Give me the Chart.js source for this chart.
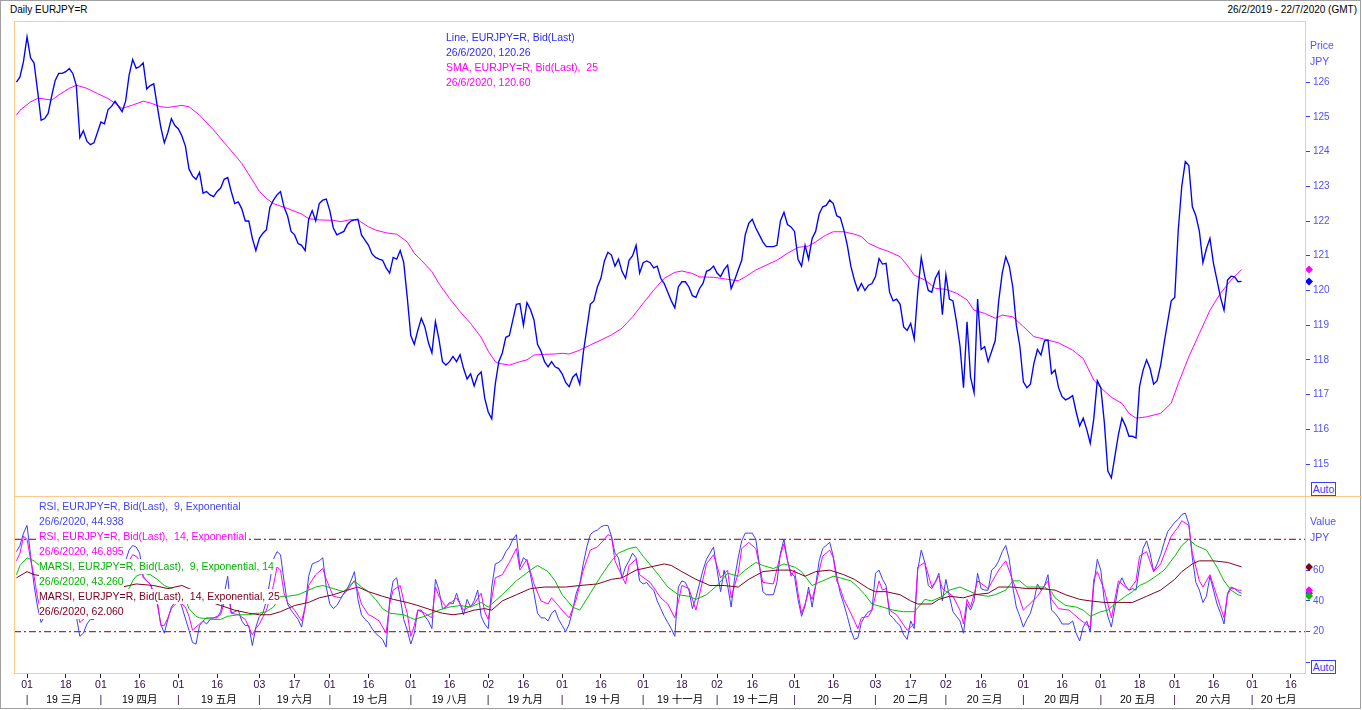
<!DOCTYPE html>
<html lang="zh">
  <head>
    <meta charset="UTF-8" />
    <meta name="viewport" content="width=device-width, initial-scale=1.0" />
    <script src="https://cdn.jsdelivr.net/npm/chart.js@4.4.1/dist/chart.umd.min.js"></script>
    <title>Daily EURJPY=R</title>
    <style>
      body { margin: 0; background: #fff; font-family: "Liberation Sans", "Noto Sans CJK SC", sans-serif; }
      #page { position: relative; width: 1362px; height: 710px; overflow: hidden; background: #fff; }
      #page > * { position: absolute; }
      #outer { left: 0; top: 0; width: 1361px; height: 709px; border: 1px solid #a0a0a0; box-sizing: border-box; }
      #frame { left: 14px; top: 21px; width: 1292px; height: 653px; border: 1px solid #ffc88c; box-sizing: border-box; z-index: 5; pointer-events: none; }
      #sep { left: 14px; top: 496px; width: 1348px; height: 1px; background: #ffc88c; z-index: 5; }
      #priceChart { left: 14px; top: 21px; }
      #rsiChart { left: 14px; top: 496px; }
      .txt { font-size: 10px; line-height: 15px; white-space: pre; }
      .legend { z-index: 4; font-size: 10.5px; line-height: 15px; }
      .legend div { width: max-content; background: #fff; white-space: pre; }
      .axisname { color: #5050ff; font-size: 10.5px; line-height: 16px; }
      .auto { width: 25px; height: 14px; border: 1px solid #3c3cff; box-sizing: border-box; color: #3c3cff; font-size: 10.5px; line-height: 12px; text-align: center; background: #fff; z-index: 6; }
    </style>
  </head>
  <body>
    <div id="page">
      <div id="outer"></div>
      <div class="txt" style="left:10px;top:2px">Daily EURJPY=R</div>
      <div class="txt" style="right:5px;top:2px">26/2/2019 - 22/7/2020 (GMT)</div>

      <canvas id="priceChart" width="1348" height="475"></canvas>
      <canvas id="rsiChart" width="1348" height="214"></canvas>

      <div class="legend" style="left:446px;top:30px">
        <div style="color:#2a2aff">Line, EURJPY=R, Bid(Last)</div>
        <div style="color:#2a2aff">26/6/2020, 120.26</div>
        <div style="color:#ff00ff">SMA, EURJPY=R, Bid(Last),  25</div>
        <div style="color:#ff00ff">26/6/2020, 120.60</div>
      </div>
      <div class="legend" style="left:39px;top:499px">
        <div style="color:#4444ff">RSI, EURJPY=R, Bid(Last),  9, Exponential</div>
        <div style="color:#4444ff">26/6/2020, 44.938</div>
        <div style="color:#ff00ff">RSI, EURJPY=R, Bid(Last),  14, Exponential</div>
        <div style="color:#ff00ff">26/6/2020, 46.895</div>
        <div style="color:#00b400">MARSI, EURJPY=R, Bid(Last),  9, Exponential, 14</div>
        <div style="color:#00b400">26/6/2020, 43.260</div>
        <div style="color:#800020">MARSI, EURJPY=R, Bid(Last),  14, Exponential, 25</div>
        <div style="color:#800020">26/6/2020, 62.060</div>
      </div>

      <div class="axisname" style="left:1310px;top:37px">Price<br />JPY</div>
      <div class="axisname" style="left:1310px;top:513px">Value<br />JPY</div>
      <div class="auto" style="left:1311px;top:482px">Auto</div>
      <div class="auto" style="left:1311px;top:660px">Auto</div>

      <div id="frame"></div>
      <div id="sep"></div>
    </div>

    <script>
      // x = trading day index, 0 = 26/2/2019 (weekdays only)
      const X_MIN = -0.7;
      const X_MAX = 366;

      // daily close, 26/2/2019 .. 26/6/2020
      const priceClose = [
        126.0, 126.15, 126.6, 127.3, 126.7, 126.55, 125.75, 124.9, 124.95, 125.1,
        125.6, 126.05, 126.25, 126.25, 126.3, 126.39, 126.25, 125.9, 124.4, 124.6,
        124.3, 124.2, 124.25, 124.55, 124.85, 124.8, 125.2, 125.3, 125.45, 125.3,
        125.15, 125.45, 126.2, 126.65, 126.4, 126.45, 126.55, 125.8, 125.9, 125.95,
        125.3, 124.7, 124.25, 124.55, 124.95, 124.75, 124.65, 124.45, 124.15, 123.5,
        123.3, 123.2, 123.4, 122.8, 122.85, 122.75, 122.7, 122.85, 122.95, 123.2,
        123.25, 122.85, 122.5, 122.55, 122.35, 122.0, 122.0, 121.5, 121.15, 121.5,
        121.65, 121.75, 122.4, 122.6, 122.75, 122.85, 122.4, 122.15, 121.7, 121.6,
        121.35, 121.3, 121.15, 122.05, 122.3, 122.0, 122.5, 122.6, 122.63, 122.3,
        121.8, 121.6, 121.65, 121.7, 121.9, 122.0, 122.03, 122.05, 121.6, 121.45,
        121.3, 121.05, 120.95, 120.9, 120.87, 120.65, 120.5, 120.95, 120.9, 121.15,
        120.8, 119.8, 118.7, 118.45, 118.85, 119.2, 118.95, 118.5, 118.2, 119.1,
        118.6, 117.95, 117.85, 117.95, 118.1, 117.95, 118.15, 117.75, 117.45, 117.6,
        117.25, 117.55, 117.65, 116.9, 116.5, 116.3, 117.3, 117.95, 118.2, 118.65,
        118.7, 119.15, 119.6, 119.62, 119.0, 119.65, 119.45, 119.15, 118.45, 118.25,
        117.95, 117.8, 117.95, 117.8, 117.75, 117.6, 117.35, 117.23, 117.5, 117.6,
        117.3, 118.2, 118.9, 119.6, 119.7, 120.1, 120.35, 120.85, 121.1, 121.02,
        120.7, 120.9, 120.55, 120.35, 120.87, 121.0, 121.3, 120.5, 120.8, 120.85,
        120.8, 120.65, 120.7, 120.35, 120.2, 119.95, 119.7, 119.5, 120.1, 120.25,
        120.25, 120.1, 119.85, 119.8, 120.05, 120.2, 120.55, 120.6, 120.7, 120.5,
        120.4, 120.6, 120.73, 120.05, 120.3, 120.59, 120.87, 121.6, 121.93, 122.05,
        121.8, 121.6, 121.4, 121.26, 121.26, 121.26, 121.3, 122.0, 122.25, 121.9,
        121.83, 121.7, 120.9, 120.7, 121.3, 120.9, 121.5, 121.7, 122.2, 122.41,
        122.45, 122.6, 122.5, 122.15, 122.1, 121.75, 121.3, 120.7, 120.3, 120.0,
        120.2, 120.0, 120.15, 120.2, 120.4, 120.92, 120.76, 120.78, 119.95, 119.7,
        119.75, 119.6, 118.95, 118.85, 119.05, 118.6, 119.95, 120.95, 120.4, 120.0,
        119.95, 120.35, 120.55, 119.3, 120.45, 119.75, 119.7, 119.1, 118.4, 117.2,
        119.1, 117.5, 117.05, 119.75, 118.3, 118.38, 117.95, 118.25, 118.55, 119.7,
        120.5, 120.97, 120.7, 120.1, 119.0, 118.4, 117.37, 117.2, 117.3, 117.9,
        118.3, 118.14, 118.55, 118.57, 117.6, 117.71, 117.2, 116.94, 116.85, 116.9,
        116.97, 116.5, 116.1, 116.32, 116.0, 115.6, 116.3, 117.4, 117.2, 116.2,
        114.8, 114.6, 115.22, 115.85, 116.32, 116.1, 115.8, 115.8, 115.75, 117.23,
        117.7, 118.0, 117.75, 117.3, 117.4, 117.85, 118.5, 119.1, 119.7, 119.8,
        121.74, 123.0, 123.71, 123.6, 122.41, 122.15, 121.7, 120.8, 121.2, 121.5,
        120.78, 120.3, 119.8, 119.43, 120.3, 120.41, 120.39, 120.25, 120.26
      ];

      // [trading day, value]
      const sma25 = [
        [0, 125.05], [1, 125.19], [4, 125.43], [6, 125.53], [7, 125.53], [10, 125.48], [12, 125.63],
        [15, 125.82], [17, 125.91], [20, 125.82], [23, 125.67], [26, 125.53], [28, 125.39], [30, 125.24],
        [33, 125.34], [36, 125.45], [38, 125.4], [41, 125.29], [43, 125.27], [47, 125.33], [49, 125.29],
        [52, 125.05], [56, 124.62], [60, 124.14], [64, 123.66], [67, 123.18], [69, 122.85], [71, 122.65],
        [73, 122.5], [77, 122.36], [81, 122.2], [83, 122.07], [86, 122.03], [90, 122.02], [92, 121.98],
        [95, 122.04], [97, 122.03], [100, 121.83], [102, 121.74], [105, 121.66], [108, 121.62],
        [111, 121.4], [113, 121.07], [115, 120.87], [118, 120.54], [120, 120.2], [123, 119.77],
        [126, 119.39], [129, 119.05], [132, 118.65], [134, 118.25], [136, 117.95], [137, 117.9],
        [140, 117.85], [143, 117.95], [145, 118.0], [147, 118.14], [150, 118.16], [153, 118.17],
        [155, 118.19], [157, 118.17], [160, 118.28], [163, 118.43], [166, 118.57], [169, 118.72],
        [172, 118.91], [175, 119.24], [178, 119.63], [181, 120.01], [184, 120.35], [187, 120.52],
        [189, 120.56], [192, 120.49], [194, 120.39], [198, 120.38], [202, 120.32], [205, 120.28],
        [207, 120.39], [210, 120.59], [213, 120.73], [216, 120.87], [219, 121.07], [222, 121.24],
        [225, 121.28], [227, 121.4], [230, 121.6], [232, 121.69], [235, 121.69], [238, 121.62],
        [240, 121.55], [242, 121.36], [245, 121.22], [248, 121.11], [251, 120.97], [253, 120.73],
        [255, 120.44], [258, 120.3], [260, 120.15], [261, 120.06], [264, 120.03], [267, 119.92],
        [270, 119.73], [272, 119.43], [275, 119.34], [278, 119.2], [280, 119.29], [283, 119.24],
        [286, 118.96], [289, 118.67], [293, 118.57], [296, 118.49], [300, 118.28], [303, 118.04],
        [306, 117.42], [308, 117.2], [311, 116.92], [314, 116.75], [316, 116.46], [318, 116.32],
        [321, 116.36], [325, 116.46], [328, 116.75], [330, 117.32], [333, 118.09], [336, 118.76],
        [339, 119.43], [342, 119.92], [345, 120.3], [348, 120.6]
      ];

      const rsi9 = [
        [0, 72], [1, 76], [2, 84], [3, 89], [4, 70], [5, 50], [6, 36], [7, 26], [8, 30], [10, 46],
        [12, 56], [14, 62], [15, 63], [16, 56], [17, 30], [18, 17], [19, 19], [20, 25], [21, 28],
        [22, 28], [24, 40], [26, 52], [28, 60], [30, 62], [31, 66], [32, 73], [33, 76], [34, 75],
        [35, 71], [36, 56], [37, 53], [38, 51], [40, 38], [41, 25], [42, 19], [43, 28], [44, 36],
        [46, 42], [47, 36], [49, 21], [50, 13], [51, 12], [52, 24], [53, 27], [54, 25], [55, 28],
        [56, 29], [57, 29], [58, 33], [60, 56], [61, 32], [62, 33], [63, 34], [64, 27], [65, 24],
        [66, 24], [67, 11], [68, 23], [69, 30], [70, 32], [71, 40], [72, 53], [73, 67], [74, 72],
        [75, 70], [76, 53], [77, 38], [78, 34], [79, 31], [80, 28], [81, 23], [82, 36], [83, 56],
        [84, 64], [85, 65], [86, 66], [87, 68], [88, 49], [89, 38], [90, 35], [91, 37], [92, 41],
        [93, 45], [94, 48], [95, 53], [96, 59], [97, 41], [98, 31], [99, 28], [100, 26], [101, 22],
        [102, 19], [103, 17], [104, 15], [105, 10], [106, 40], [107, 53], [108, 55], [109, 42],
        [110, 28], [111, 21], [112, 12], [113, 19], [114, 34], [115, 34], [116, 30], [117, 27],
        [118, 22], [119, 54], [120, 47], [121, 35], [122, 36], [123, 39], [124, 38], [125, 45],
        [126, 38], [127, 31], [128, 41], [129, 36], [130, 40], [131, 47], [132, 30], [133, 25],
        [134, 22], [135, 49], [136, 64], [137, 65], [138, 67], [139, 72], [140, 75], [141, 80],
        [142, 83], [143, 62], [144, 68], [145, 66], [146, 57], [147, 45], [148, 32], [149, 29],
        [150, 29], [151, 27], [152, 32], [153, 34], [154, 28], [155, 24], [156, 20], [157, 25],
        [158, 34], [159, 45], [160, 51], [161, 64], [162, 75], [163, 83], [164, 85], [165, 86],
        [166, 88], [167, 89], [168, 89], [169, 82], [170, 71], [171, 68], [172, 55], [173, 62],
        [174, 66], [175, 71], [176, 68], [177, 53], [178, 51], [179, 52], [180, 49], [181, 47],
        [182, 40], [183, 35], [184, 30], [185, 26], [186, 22], [187, 17], [188, 49], [189, 53],
        [190, 52], [191, 47], [192, 35], [193, 42], [194, 51], [195, 60], [196, 67], [197, 71],
        [198, 75], [199, 60], [200, 46], [201, 60], [202, 50], [203, 36], [204, 55], [205, 68],
        [206, 79], [207, 84], [208, 84], [209, 84], [210, 80], [211, 64], [212, 46], [213, 44],
        [214, 44], [215, 44], [216, 52], [217, 71], [218, 80], [219, 66], [220, 58], [221, 56],
        [222, 41], [223, 30], [224, 37], [225, 49], [226, 36], [227, 50], [228, 66], [229, 74],
        [230, 76], [231, 78], [232, 69], [233, 56], [234, 45], [235, 38], [236, 30], [237, 21],
        [238, 15], [239, 16], [240, 26], [241, 30], [242, 33], [243, 34], [244, 58], [245, 60],
        [246, 54], [247, 50], [248, 31], [249, 29], [250, 26], [251, 24], [252, 18], [253, 15],
        [254, 27], [255, 22], [256, 60], [257, 73], [258, 65], [259, 50], [260, 48], [261, 52],
        [262, 58], [263, 40], [264, 54], [265, 43], [266, 33], [267, 30], [268, 27], [269, 19],
        [270, 38], [271, 34], [272, 40], [273, 58], [274, 48], [275, 47], [276, 47], [277, 60],
        [278, 62], [279, 66], [280, 72], [281, 76], [282, 67], [283, 49], [284, 36], [285, 30],
        [286, 23], [287, 28], [288, 32], [289, 40], [290, 51], [291, 47], [292, 50], [293, 57],
        [294, 34], [295, 32], [296, 29], [297, 25], [298, 25], [299, 25], [300, 27], [301, 19],
        [302, 14], [303, 23], [304, 27], [305, 20], [306, 50], [307, 67], [308, 60], [309, 40],
        [310, 30], [311, 23], [312, 36], [313, 50], [314, 55], [315, 50], [316, 47], [317, 48],
        [318, 47], [319, 62], [320, 74], [321, 79], [322, 71], [323, 59], [324, 64], [325, 70],
        [326, 78], [327, 85], [328, 88], [329, 91], [330, 93], [331, 96], [332, 97], [333, 90],
        [334, 68], [335, 52], [336, 47], [337, 39], [338, 43], [339, 56], [340, 47], [341, 38],
        [342, 32], [343, 25], [344, 45], [345, 49], [346, 48], [347, 46], [348, 44.938]
      ];

      const rsi14 = [
        [0, 66], [1, 71], [2, 82], [3, 80], [4, 67], [5, 56], [6, 42], [7, 33], [8, 36], [10, 46],
        [12, 54], [14, 58], [15, 59], [16, 54], [17, 36], [18, 26], [20, 30], [22, 31], [24, 42],
        [26, 50], [28, 56], [30, 58], [32, 66], [33, 70], [34, 69], [35, 66], [36, 55], [37, 53],
        [38, 51], [40, 40], [41, 24], [42, 24], [43, 29], [44, 35], [46, 40], [48, 36], [49, 30],
        [50, 21], [52, 25], [54, 29], [56, 29], [58, 31], [60, 47], [61, 32], [63, 31], [65, 28],
        [67, 18], [68, 22], [69, 25], [71, 34], [73, 50], [74, 62], [75, 60], [76, 45], [77, 39],
        [79, 34], [81, 27], [82, 36], [83, 50], [85, 57], [87, 61], [88, 54], [90, 43], [92, 42],
        [94, 47], [96, 53], [97, 46], [98, 38], [100, 31], [101, 30], [103, 27], [105, 19],
        [106, 38], [107, 47], [109, 50], [110, 40], [111, 32], [112, 17], [113, 24], [114, 34],
        [116, 32], [118, 29], [119, 49], [120, 43], [122, 36], [124, 40], [125, 42], [127, 34],
        [130, 38], [132, 45], [133, 33], [134, 28], [136, 55], [138, 57], [140, 65], [142, 74],
        [143, 60], [145, 67], [147, 51], [149, 40], [151, 38], [152, 42], [155, 34], [157, 29],
        [159, 41], [161, 60], [163, 73], [165, 75], [167, 80], [168, 83], [169, 82], [170, 66],
        [172, 56], [173, 51], [174, 63], [176, 67], [177, 57], [180, 52], [183, 42], [185, 38],
        [187, 29], [189, 50], [191, 48], [193, 34], [196, 64], [198, 70], [200, 55], [202, 60],
        [203, 42], [205, 58], [206, 74], [208, 78], [210, 74], [212, 52], [215, 51], [217, 70],
        [218, 77], [220, 56], [221, 60], [222, 45], [223, 32], [224, 38], [225, 46], [226, 41],
        [227, 50], [229, 69], [231, 73], [232, 68], [233, 53], [234, 48], [235, 41], [237, 32],
        [239, 22], [240, 29], [242, 30], [243, 34], [245, 53], [246, 47], [247, 48], [248, 34],
        [250, 31], [253, 21], [255, 25], [256, 62], [258, 65], [260, 49], [262, 56], [263, 48],
        [266, 43], [268, 34], [269, 25], [270, 41], [271, 36], [273, 53], [276, 48], [279, 60],
        [281, 66], [283, 53], [285, 41], [286, 34], [290, 43], [293, 53], [294, 41], [296, 35],
        [299, 34], [302, 28], [305, 23], [306, 54], [307, 59], [309, 47], [311, 29], [313, 53],
        [316, 47], [318, 53], [319, 69], [321, 72], [323, 59], [325, 64], [328, 82], [330, 88],
        [331, 92], [333, 89], [334, 71], [336, 53], [337, 49], [339, 57], [341, 43], [343, 29],
        [344, 44], [345, 48], [346, 48], [347, 47], [348, 46.895]
      ];

      const marsi9 = [
        [0, 57], [1, 63], [3, 68], [5, 66], [7, 62], [10, 55], [13, 51], [16, 50], [18, 45], [21, 41],
        [24, 40], [27, 42], [30, 45], [32, 48], [33, 53], [34, 56], [36, 58], [38, 57], [40, 54],
        [42, 50], [45, 47], [47, 44], [48, 41], [49, 35], [51, 30], [52, 29], [56, 28], [58, 28],
        [60, 30], [63, 31], [66, 31], [68, 32], [69, 32], [71, 33], [73, 36], [75, 43], [77, 43],
        [80, 44], [83, 47], [85, 49], [87, 50], [90, 48], [93, 46], [96, 53], [98, 49], [100, 46],
        [102, 41], [104, 35], [106, 32], [110, 31], [113, 28], [116, 30], [118, 32], [120, 34],
        [123, 36], [126, 37], [129, 36], [132, 39], [134, 36], [138, 44], [142, 53], [146, 60],
        [148, 63], [151, 59], [153, 53], [155, 44], [158, 36], [160, 34], [163, 45], [166, 56],
        [169, 66], [171, 71], [174, 74], [176, 75], [178, 69], [182, 58], [185, 49], [188, 44],
        [191, 43], [193, 41], [196, 44], [199, 50], [202, 58], [205, 56], [207, 60], [210, 65],
        [212, 63], [215, 61], [218, 64], [221, 62], [223, 59], [226, 50], [229, 53], [232, 56],
        [234, 55], [237, 53], [239, 49], [241, 44], [243, 38], [246, 36], [249, 34], [252, 33],
        [255, 33], [257, 38], [258, 41], [260, 40], [263, 43], [265, 47], [268, 49], [270, 47],
        [273, 44], [276, 43], [278, 44], [281, 47], [283, 53], [285, 53], [287, 49], [289, 49],
        [292, 49], [294, 46], [295, 42], [298, 37], [301, 36], [303, 34], [305, 30], [308, 33],
        [310, 34], [312, 38], [315, 43], [317, 46], [319, 50], [321, 52], [323, 55], [326, 60],
        [329, 69], [331, 76], [333, 80], [335, 76], [338, 73], [341, 62], [343, 53], [345, 47],
        [347, 44], [348, 43.26]
      ];

      const marsi14 = [
        [0, 55], [3, 59], [5, 57], [8, 56], [12, 53], [16, 52], [20, 49], [24, 48], [28, 48], [32, 50],
        [34, 51], [39, 50], [43, 48], [47, 50], [50, 47], [54, 40], [58, 37], [62, 34], [66, 32],
        [69, 31], [72, 31], [75, 33], [79, 37], [83, 39], [86, 42], [90, 44], [94, 47], [97, 49],
        [100, 46], [104, 43], [107, 41], [111, 39], [114, 37], [118, 34], [121, 32], [124, 31],
        [127, 32], [130, 34], [133, 35], [135, 34], [138, 40], [142, 44], [146, 48], [150, 49],
        [153, 49], [156, 49], [160, 50], [165, 51], [169, 54], [172, 55], [176, 60], [180, 62],
        [184, 64], [186, 63], [189, 59], [193, 54], [197, 50], [201, 50], [205, 49], [208, 54],
        [212, 59], [216, 60], [220, 60], [224, 56], [227, 59], [231, 60], [235, 57], [238, 54],
        [242, 48], [244, 46], [247, 46], [251, 44], [254, 40], [256, 38], [260, 38], [262, 41],
        [265, 43], [269, 42], [272, 44], [276, 45], [279, 49], [283, 49], [287, 48], [291, 48],
        [295, 47], [298, 44], [302, 41], [305, 40], [309, 39], [313, 39], [317, 39], [321, 43],
        [325, 47], [329, 54], [331, 59], [334, 64], [336, 66], [340, 66], [344, 65], [348, 62.06]
      ];

      const rsiBands = [80, 20];
      const priceTicks = [115, 116, 117, 118, 119, 120, 121, 122, 123, 124, 125, 126];
      const rsiTicks = [0, 20, 40, 60];

      const dayTickIndex = [3, 14, 24, 35, 46, 57, 69, 79, 89, 100, 112, 123, 134, 144, 155, 166, 178,
        189, 199, 209, 221, 232, 244, 254, 264, 274, 286, 297, 308, 319, 329, 340, 351, 362];
      const dayTickLabel = ['01', '18', '01', '16', '01', '16', '03', '17', '01', '16', '01', '16', '02',
        '16', '01', '16', '01', '18', '02', '16', '01', '16', '03', '17', '02', '16', '01', '16', '01',
        '18', '01', '16', '01', '16'];
      const monthStartIndex = [3, 24, 46, 69, 89, 112, 134, 155, 178, 199, 221, 244, 264, 286, 308, 329, 351];
      const monthNames = ['19 三月', '19 四月', '19 五月', '19 六月', '19 七月', '19 八月', '19 九月',
        '19 十月', '19 十一月', '19 十二月', '20 一月', '20 二月', '20 三月', '20 四月', '20 五月',
        '20 六月', '20 七月'];

      Chart.defaults.font.family = '"Liberation Sans", "Noto Sans CJK SC", sans-serif';
      Chart.defaults.font.size = 10;
      Chart.defaults.animation = false;

      const toPoints = (pairs) => pairs.map(([x, y]) => ({ x, y }));

      // month names sit in the middle of their visible span, "|" marks the month start
      let axisTicks = dayTickIndex.map((v, k) => ({
        value: v,
        kind: 'day',
        text: [dayTickLabel[k], monthStartIndex.includes(v) ? '|' : ''],
      }));
      monthStartIndex.forEach((start, k) => {
        const end = k + 1 < monthStartIndex.length ? monthStartIndex[k + 1] : X_MAX;
        axisTicks.push({ value: (start + end) / 2, kind: 'month', text: ['', monthNames[k]] });
      });
      axisTicks.sort((a, b) => a.value - b.value);

      // small diamonds on the value axis at each series' last value
      const endMarkers = {
        id: 'endMarkers',
        afterDatasetsDraw(chart, args, opts) {
          const ctx = chart.ctx;
          const x = chart.chartArea.right + 4;
          opts.order.forEach((i) => {
            const ds = chart.data.datasets[i];
            const last = ds.data[ds.data.length - 1];
            const y = chart.scales.y.getPixelForValue(last.y);
            ctx.save();
            ctx.fillStyle = ds.borderColor;
            ctx.beginPath();
            ctx.moveTo(x, y - 4);
            ctx.lineTo(x + 4, y);
            ctx.lineTo(x, y + 4);
            ctx.lineTo(x - 4, y);
            ctx.closePath();
            ctx.fill();
            ctx.restore();
          });
        },
      };

      function lineSet(data, color, width) {
        return { data, borderColor: color, borderWidth: width, pointRadius: 0, tension: 0, fill: false };
      }

      function valueAxis(min, max, ticks, hideZero) {
        return {
          position: 'right',
          min,
          max,
          afterBuildTicks: (s) => { s.ticks = ticks.map((v) => ({ value: v })); },
          afterFit: (s) => { s.width = 57; s.paddingTop = 0; s.paddingBottom = 0; },
          border: { display: false },
          grid: { drawOnChartArea: false, drawTicks: true, tickLength: 5, tickColor: '#3c3cff' },
          ticks: {
            padding: 3,
            color: '#5050ff',
            autoSkip: false,
            callback: (v) => (hideZero && v === 0 ? '' : String(v)),
          },
        };
      }

      new Chart(document.getElementById('priceChart'), {
        type: 'line',
        data: {
          datasets: [
            lineSet(priceClose.map((y, i) => ({ x: i, y })), '#0000ff', 1.35),
            lineSet(toPoints(sma25), '#ff00ff', 1),
          ],
        },
        options: {
          responsive: false,
          layout: { padding: 0 },
          plugins: { legend: { display: false }, tooltip: { enabled: false }, endMarkers: { order: [1, 0] } },
          scales: {
            x: { type: 'linear', min: X_MIN, max: X_MAX, display: false },
            y: valueAxis(114.08, 127.76, priceTicks, false),
          },
        },
        plugins: [endMarkers],
      });

      new Chart(document.getElementById('rsiChart'), {
        type: 'line',
        data: {
          datasets: [
            lineSet(toPoints(marsi14), '#800020', 1),
            lineSet(toPoints(marsi9), '#00c000', 1),
            lineSet(toPoints(rsi14), '#ff00ff', 1),
            lineSet(toPoints(rsi9), '#3c3cff', 1),
            ...rsiBands.map((b) => ({
              ...lineSet([{ x: X_MIN, y: b }, { x: X_MAX, y: b }], '#800020', 1),
              borderDash: [7, 3, 2, 3],
            })),
          ],
        },
        options: {
          responsive: false,
          layout: { padding: 0 },
          plugins: { legend: { display: false }, tooltip: { enabled: false }, endMarkers: { order: [3, 2, 1, 0] } },
          scales: {
            x: {
              type: 'linear',
              min: X_MIN,
              max: X_MAX,
              position: 'bottom',
              afterBuildTicks: (s) => { s.ticks = axisTicks.map((t) => ({ value: t.value, kind: t.kind })); },
              afterFit: (s) => { s.height = 37; s.paddingLeft = 0; s.paddingRight = 0; },
              border: { display: false },
              grid: {
                drawOnChartArea: false,
                drawTicks: true,
                tickLength: 5,
                tickColor: (c) => (c.tick && c.tick.kind === 'month' ? 'rgba(0,0,0,0)' : '#202020'),
              },
              ticks: {
                autoSkip: false,
                maxRotation: 0,
                minRotation: 0,
                padding: 0,
                font: { size: 10.5, lineHeight: '15px' },
                color: (c) => (c.tick && c.tick.kind === 'month' ? '#000000' : '#2a0a48'),
                callback: (v, i) => axisTicks[i].text,
              },
            },
            y: valueAxis(-6.8, 108.1, rsiTicks, true),
          },
        },
        plugins: [endMarkers],
      });
    </script>
  </body>
</html>
